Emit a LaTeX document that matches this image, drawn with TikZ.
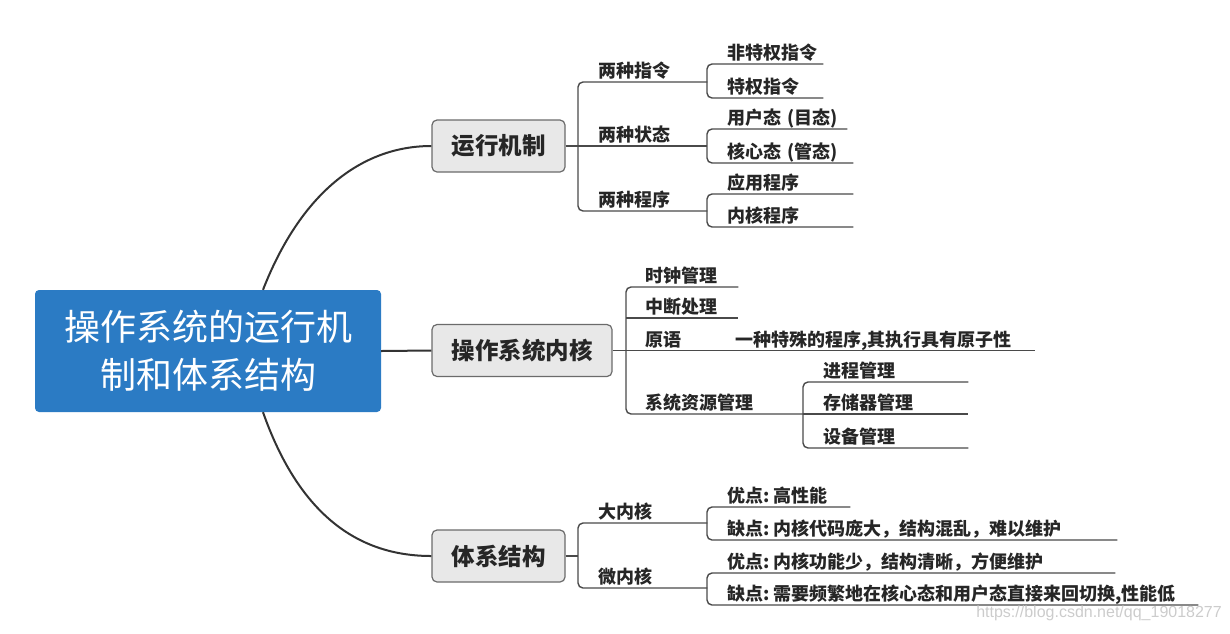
\documentclass[tikz,border=0pt]{standalone}
\usepackage{fontspec}
\newfontfamily\cjk{Noto Sans CJK SC}
\newfontfamily\wmfont{Liberation Sans}
\definecolor{rootblue}{HTML}{2B7BC4}
\definecolor{boxgray}{HTML}{E8E8E8}
\definecolor{boxline}{HTML}{6B6B6B}
\definecolor{linec}{HTML}{4A4A4A}
\definecolor{txt}{HTML}{262626}
\definecolor{trunkc}{HTML}{333333}
\newcommand\cln{:\hspace{4pt}}
\tikzset{
  rootbox/.style={fill=rootblue, rounded corners=4pt, minimum width=346pt, minimum height=122pt,
    text=white, align=center, font=\cjk\fontsize{36}{48}\selectfont, inner sep=0pt},
  branchbox/.style={draw=boxline, line width=1.2pt, fill=boxgray, rounded corners=5pt,
    minimum height=52pt, inner sep=0pt, text=txt, font=\cjk\bfseries\fontsize{23.5}{26}\selectfont},
  lab/.style={anchor=south west, inner sep=0pt, text depth=4pt, text height=16pt, align=left,
    text=txt, font=\cjk\bfseries\fontsize{18}{20}\selectfont, text width=#1},
  tree/.style={draw=linec, line width=1.4pt, rounded corners=5pt},
  trunk/.style={draw=trunkc, line width=2pt},
}
\begin{document}
\begin{tikzpicture}[x=1pt,y=-1pt]
\useasboundingbox (0,0) rectangle (1230,633);

% root and branches
\node[rootbox] (root) at (208,351) {操作系统的运行机\\制和体系结构};
\node[branchbox, minimum width=133pt] (b1) at (498.5,146) {运行机制};
\node[branchbox, minimum width=180pt] (b2) at (522,350.5) {操作系统内核};
\node[branchbox, minimum width=133pt] (b3) at (498.5,556) {体系结构};

\draw[trunk] (root.east) -- (b2.west);
\draw[trunk] ([xshift=55pt]root.north) .. controls (300,195) and (360,146) .. (b1.west);
\draw[trunk] ([xshift=55pt]root.south) .. controls (300,517) and (360,556) .. (b3.west);

% ---- 运行机制 ----
\node[lab=129pt] (c11) at (578,82)  {\hspace*{20pt}两种指令};
\node[lab=129pt] (c12) at (578,146) {\hspace*{20pt}两种状态};
\node[lab=129pt] (c13) at (578,211) {\hspace*{20pt}两种程序};
\draw[tree] (b1.east) -- (b1.east -| c12.south west);
\draw[tree] (c11.south east) -- (c11.south west) -- (c13.south west) -- (c13.south east);
\draw[tree] (c12.south west) -- (c12.south east);

\node[lab=116pt] (c111) at (707,64)  {\hspace*{20pt}非特权指令};
\node[lab=116pt] (c112) at (707,98)  {\hspace*{20pt}特权指令};
\draw[tree] (c111.south east) -- (c111.south west) -- (c112.south west) -- (c112.south east);

\node[lab=140pt] (c121) at (707,129) {\hspace*{20pt}用户态 (目态)};
\node[lab=146pt] (c122) at (707,163) {\hspace*{20pt}核心态 (管态)};
\draw[tree] (c121.south east) -- (c121.south west) -- (c122.south west) -- (c122.south east);

\node[lab=146pt] (c131) at (707,194) {\hspace*{20pt}应用程序};
\node[lab=146pt] (c132) at (707,227) {\hspace*{20pt}内核程序};
\draw[tree] (c131.south east) -- (c131.south west) -- (c132.south west) -- (c132.south east);

% ---- 操作系统内核 ----
\node[lab=112pt] (c21) at (626,287) {\hspace*{19pt}时钟管理};
\node[lab=112pt] (c22) at (626,318) {\hspace*{19pt}中断处理};
\node[lab=89pt]  (c23) at (626,350.5) {\hspace*{19pt}原语};
\node[lab=320pt] (c231) at (715,350.5) {\hspace*{20pt}一种特殊的程序,其执行具有原子性};
\node[lab=177pt] (c24) at (626,414) {\hspace*{19pt}系统资源管理};
\draw[tree] (b2.east) -- (b2.east -| c21.south west);
\draw[tree] (c21.south east) -- (c21.south west) -- (c24.south west) -- (c24.south east);
\draw[tree] (c22.south west) -- (c22.south east);
\draw[tree] (c23.south west) -- (c231.south east);

\node[lab=165pt] (c241) at (803,382) {\hspace*{20pt}进程管理};
\node[lab=165pt] (c242) at (803,414) {\hspace*{20pt}存储器管理};
\node[lab=165pt] (c243) at (803,448) {\hspace*{20pt}设备管理};
\draw[tree] (c241.south east) -- (c241.south west) -- (c243.south west) -- (c243.south east);
\draw[tree] (c242.south west) -- (c242.south east);

% ---- 体系结构 ----
\node[lab=129pt] (c31) at (578,523) {\hspace*{20pt}大内核};
\node[lab=129pt] (c32) at (578,588) {\hspace*{20pt}微内核};
\draw[tree] (b3.east) -- (b3.east -| c31.south west);
\draw[tree] (c31.south east) -- (c31.south west) -- (c32.south west) -- (c32.south east);

\node[lab=143pt] (c311) at (707,507) {\hspace*{20pt}优点\cln 高性能};
\node[lab=410pt] (c312) at (707,540) {\hspace*{20pt}缺点\cln 内核代码庞大，结构混乱，难以维护};
\draw[tree] (c311.south east) -- (c311.south west) -- (c312.south west) -- (c312.south east);

\node[lab=408pt] (c321) at (707,573) {\hspace*{20pt}优点\cln 内核功能少，结构清晰，方便维护};
\node[lab=491pt] (c322) at (707,605) {\hspace*{20pt}缺点\cln 需要频繁地在核心态和用户态直接来回切换,性能低};
\draw[tree] (c321.south east) -- (c321.south west) -- (c322.south west) -- (c322.south east);

% watermark
\node[anchor=east, inner sep=0pt, text=gray!40, font=\wmfont\fontsize{16}{18}\selectfont] (wm) at (1222,613) {https://blog.csdn.net/qq\_19018277};
\end{tikzpicture}
\end{document}
